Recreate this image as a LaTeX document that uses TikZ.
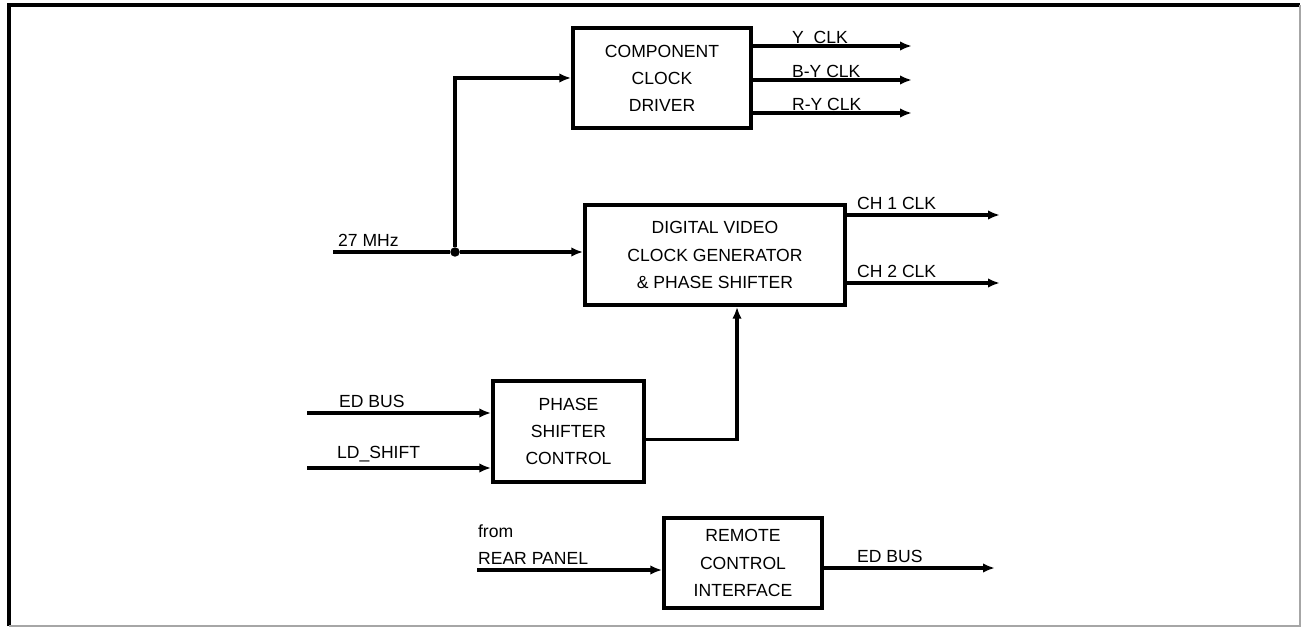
\documentclass[tikz,border=0pt]{standalone}
\usepackage{fontspec}
\setmainfont{Liberation Sans}
\usetikzlibrary{arrows.meta,calc}

\tikzset{
  blok/.style={draw, line width=2pt, align=center, font=\fontsize{10}{15.4}\selectfont},
  sig/.style={line width=2.1pt, -{Latex[length=0.24cm,width=0.19cm]}},
  wire/.style={line width=2.1pt},
  lbl/.style={anchor=south west, inner xsep=1pt, inner ysep=3pt, font=\fontsize{10}{12}\selectfont},
}

\begin{document}
\begin{tikzpicture}[x=0.02cm,y=-0.02cm]
\useasboundingbox (0,0) rectangle (1301,628);
% frame
\draw[line width=2.2pt] (9,626) -- (9,5) -- (1300,5);
\draw[black!35, line width=0.6pt] (1300,5) -- (1300,626) -- (9,626);

% blocks
\node[blok, minimum width=3.56cm, minimum height=2cm] (ccd) at (662,78) {COMPONENT\\CLOCK\\DRIVER};
\node[blok, minimum width=5.2cm, minimum height=2cm] (dvc) at (715,255) {DIGITAL VIDEO\\CLOCK GENERATOR\\\& PHASE SHIFTER};
\node[blok, minimum width=3.02cm, minimum height=2.02cm] (psc) at (568.5,431.5) {PHASE\\SHIFTER\\CONTROL};
\node[blok, minimum width=3.16cm, minimum height=1.8cm] (rci) at (743,563) {REMOTE\\CONTROL\\INTERFACE};

% component clock outputs
\foreach \yy/\txt/\nm in {46/Y~~CLK/y, 80/B-Y CLK/by, 113/R-Y CLK/ry}{
  \coordinate (\nm out) at (912,\yy);
  \draw[sig] (ccd.east |- \nm out) -- (\nm out);
  \node[lbl, inner ysep=1pt] (\nm lbl) at (790,\yy) {\txt};
}

% 27 MHz clock in
\coordinate (clkin) at (333,252);
\node[circle, fill, inner sep=0pt, minimum size=0.19cm] (jn) at (455,252) {};
\draw[wire] (clkin) -- (jn);
\draw[sig] (jn) -- (dvc.west |- jn);
\draw[sig] (jn) |- (ccd.west);
\node[lbl] (mhz) at (336,252) {27 MHz};

% channel clocks
\foreach \yy/\txt/\nm in {215/CH 1 CLK/cha, 283/CH 2 CLK/chb}{
  \coordinate (\nm out) at (1000,\yy);
  \draw[sig] (dvc.east |- \nm out) -- (\nm out);
  \node[lbl] (\nm lbl) at (855,\yy) {\txt};
}

% phase shifter control
\coordinate (edin) at (307,413);
\coordinate (ldin) at (307,468);
\draw[sig] (edin) -- (psc.west |- edin);
\draw[sig] (ldin) -- (psc.west |- ldin);
\node[lbl] (edlbl) at (337,413) {ED BUS};
\node[lbl] (ldlbl) at (335,468) {LD\_SHIFT};
\draw[sig] ($(psc.east)+(0,8)$) -| ($(dvc.south)+(22,0)$);

% remote control
\coordinate (rpin) at (477,570);
\coordinate (edout) at (995,568);
\draw[sig] (rpin) -- (rci.west |- rpin);
\draw[sig] (rci.east |- edout) -- (edout);
\node[lbl, align=left, font=\fontsize{10}{15.4}\selectfont] (rplbl) at (476,570) {from\\REAR PANEL};
\node[lbl] (edolbl) at (855,568) {ED BUS};

\end{tikzpicture}
\end{document}
